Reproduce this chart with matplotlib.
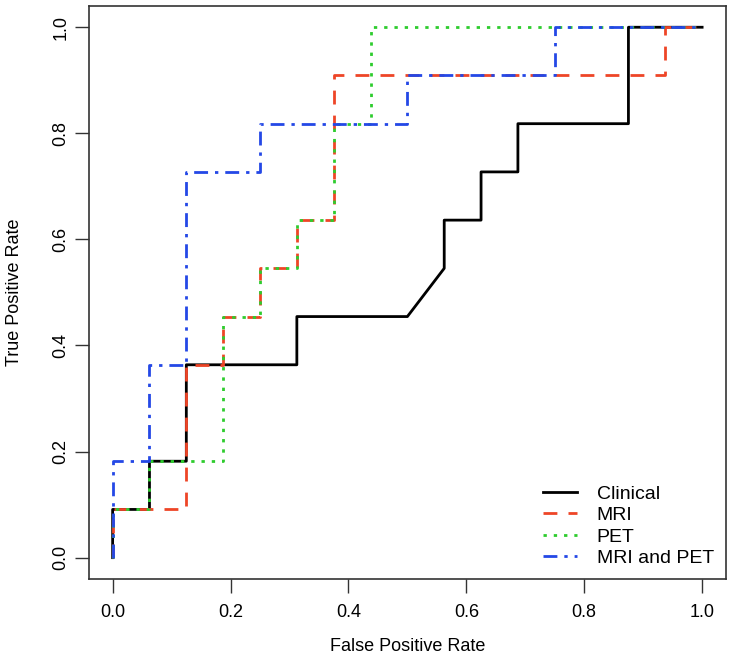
import numpy as np
import matplotlib
matplotlib.use('Agg')
import matplotlib.pyplot as plt

plt.rcParams['font.family'] = ['Liberation Sans', 'DejaVu Sans']

# ROC curves: FPR in sixteenths, TPR in elevenths
clinical_fpr = [0, 0, 1, 1, 2, 2, 5, 5, 8, 9, 9, 10, 10, 11, 11, 14, 14, 16]
clinical_tpr = [0, 1, 1, 2, 2, 4, 4, 5, 5, 6, 7, 7, 8, 8, 9, 9, 11, 11]

mri_fpr = [0, 0, 2, 2, 3, 3, 4, 4, 5, 5, 6, 6, 15, 15, 16]
mri_tpr = [0, 1, 1, 4, 4, 5, 5, 6, 6, 7, 7, 10, 10, 11, 11]

pet_fpr = [0, 0, 1, 1, 3, 3, 4, 4, 5, 5, 6, 6, 7, 7, 16]
pet_tpr = [0, 1, 1, 2, 2, 5, 5, 6, 6, 7, 7, 9, 9, 11, 11]

both_fpr = [0, 0, 1, 1, 2, 2, 4, 4, 8, 8, 12, 12, 16]
both_tpr = [0, 2, 2, 4, 4, 8, 8, 9, 9, 10, 10, 11, 11]

series = [
    ('Clinical', clinical_fpr, clinical_tpr, 'black', '-'),
    ('MRI', mri_fpr, mri_tpr, '#EE4527', (0, (5, 4))),
    ('PET', pet_fpr, pet_tpr, '#2ECC2E', (0, (1.2, 2.5))),
    ('MRI and PET', both_fpr, both_tpr, '#2448E6', (0, (5, 2.5, 1.2, 2.5))),
]

fig = plt.figure(figsize=(7.36, 6.70), dpi=100)
ax = fig.add_axes([0.121, 0.136, 0.865, 0.855])

for name, fpr, tpr, col, ls in series:
    ax.plot(np.array(fpr) / 16, np.array(tpr) / 11, color=col, linestyle=ls,
            linewidth=2, label=name)

ax.set_xlim(-0.04, 1.04)
ax.set_ylim(-0.04, 1.04)
ticks = [0.0, 0.2, 0.4, 0.6, 0.8, 1.0]
ax.set_xticks(ticks)
ax.set_yticks(ticks)
ax.set_xticklabels(['%.1f' % t for t in ticks])
ax.set_yticklabels(['%.1f' % t for t in ticks], rotation=90, va='center')
ax.tick_params(direction='out', length=10, width=1, labelsize=13, color='#333333')
ax.tick_params(axis='x', pad=8)
ax.tick_params(axis='y', pad=4)
for sp in ax.spines.values():
    sp.set_linewidth(1.2)
    sp.set_color('#333333')

ax.set_xlabel('False Positive Rate', fontsize=13, labelpad=12)
ax.set_ylabel('True Positive Rate', fontsize=13, labelpad=21)

leg = ax.legend(loc='lower right', frameon=False, fontsize=14, handlelength=1.75,
                handletextpad=1.0, labelspacing=0.2, borderaxespad=0.2)

fig.savefig('out.png', dpi=100)
